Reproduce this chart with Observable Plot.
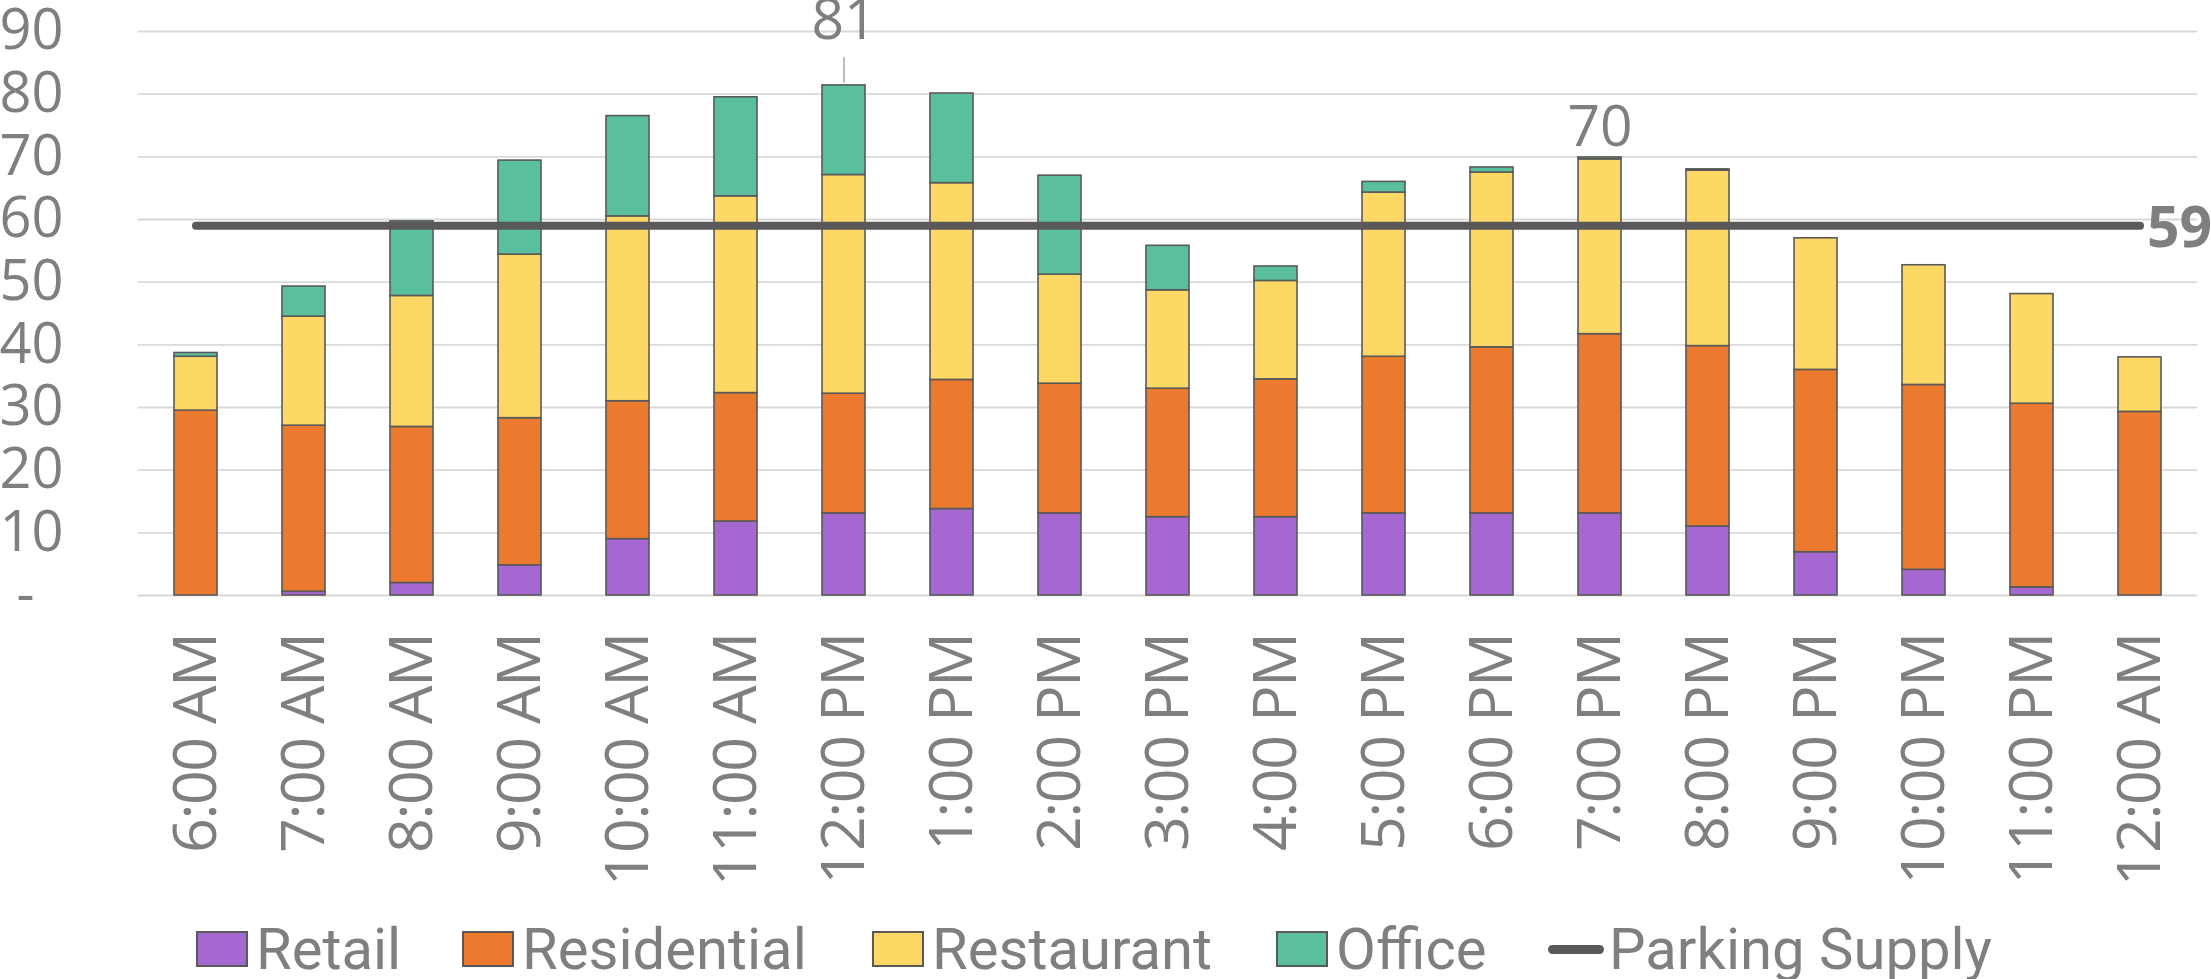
<!DOCTYPE html>
<html>
<head>
<meta charset="utf-8">
<script src="https://cdn.jsdelivr.net/npm/d3@7"></script>
<script src="https://cdn.jsdelivr.net/npm/@observablehq/plot@0.6"></script>
<style>
  html, body { margin: 0; padding: 0; background: #fff; overflow: hidden; width: 2211px; height: 979px; }
  #chart svg { display: block; }
  #chart g[aria-label="x-axis tick label"] text { letter-spacing: -1.5px; }
  #legend { position: relative; height: 59px; font-family: Roboto, "Open Sans", sans-serif; font-size: 58px; color: #7f7f7f; }
  .item { position: absolute; top: 0; height: 59px; display: flex; align-items: flex-start; white-space: nowrap; line-height: 58px; }
  .sw { box-sizing: border-box; width: 52px; height: 36px; border: 2px solid #595959; margin-top: 11px; margin-right: 8px; }
  .ln { width: 56px; height: 9px; border-radius: 5px; background: #595959; margin-top: 25px; margin-right: 5px; }
</style>
</head>
<body>
<div id="chart"></div>
<div id="legend"></div>
<script>
// ---- data ----
const categories = ["6:00 AM", "7:00 AM", "8:00 AM", "9:00 AM", "10:00 AM", "11:00 AM", "12:00 PM",
  "1:00 PM", "2:00 PM", "3:00 PM", "4:00 PM", "5:00 PM", "6:00 PM", "7:00 PM", "8:00 PM",
  "9:00 PM", "10:00 PM", "11:00 PM", "12:00 AM"];
const seriesNames = ["Retail", "Residential", "Restaurant", "Office"];
const retail      = [0, 0.6, 2.0, 4.8, 9.0, 11.8, 13.1, 13.8, 13.1, 12.5, 12.5, 13.1, 13.1, 13.1, 11.0, 6.9, 4.1, 1.3, 0];
const residential = [29.5, 26.5, 24.9, 23.5, 22.0, 20.5, 19.1, 20.6, 20.7, 20.5, 22.0, 25.0, 26.5, 28.6, 28.8, 29.1, 29.5, 29.3, 29.3];
const restaurant  = [8.6, 17.4, 20.9, 26.1, 29.5, 31.4, 34.9, 31.4, 17.4, 15.7, 15.7, 26.2, 27.9, 27.9, 28.0, 21.0, 19.1, 17.5, 8.7];
const office      = [0.6, 4.8, 11.9, 15.0, 16.0, 15.8, 14.3, 14.3, 15.8, 7.1, 2.3, 1.7, 0.8, 0.3, 0.2, 0, 0, 0, 0];
const parkingSupply = 59;
const parkingLabel = "Parking Supply";
const yTicks = [0, 10, 20, 30, 40, 50, 60, 70, 80, 90];
const peakHigh = "12:00 PM";   // labelled 81, with leader line
const peakEvening = "7:00 PM"; // labelled 70
const seriesColors = ["#a567d0", "#ec7a2e", "#fdd865", "#59bf9e"];

// ---- build table ----
const seriesValues = [retail, residential, restaurant, office];
const rows = [];
categories.forEach((c, i) => {
  seriesNames.forEach((s, j) => {
    const v = seriesValues[j][i];
    if (v > 0) rows.push({cat: c, series: s, value: v});
  });
});
const totalOf = c => {
  const i = categories.indexOf(c);
  return seriesValues.reduce((a, s) => a + s[i], 0);
};
const supplyLine = [categories[0], categories[categories.length - 1]].map(c => ({cat: c, v: parkingSupply}));

const gray = "#7f7f7f";
const chart = Plot.plot({
  width: 2211,
  height: 920,
  marginLeft: 137.6,
  marginRight: 14,
  marginTop: 31,
  marginBottom: 325,
  style: {fontFamily: "'Open Sans', sans-serif", color: gray, background: "white", overflow: "visible"},
  x: {domain: categories, paddingInner: 0.6, paddingOuter: 0.3, label: null},
  y: {domain: [0, 90], label: null},
  color: {domain: seriesNames, range: seriesColors},
  marks: [
    Plot.gridY(yTicks, {stroke: "#d9d9d9", strokeOpacity: 1, strokeWidth: 1.8}),
    Plot.axisY(yTicks, {tickSize: 0, tickPadding: 74.6, fontSize: 56, fill: gray, label: null,
      tickFormat: d => d === 0 ? "-\u00a0\u00a0" : String(d)}),
    Plot.axisX({tickSize: 0, tickPadding: 38, tickRotate: -90, fontSize: 61, fill: gray, label: null}),
    Plot.barY(rows, {x: "cat", y: "value", fill: "series", stroke: "#595959", strokeWidth: 1.6}),
    Plot.lineY(supplyLine, {x: "cat", y: "v", stroke: "#595959", strokeWidth: 8, strokeLinecap: "round"}),
    Plot.text([parkingSupply], {x: () => categories[categories.length - 1], y: d => d, text: d => String(d),
      dx: 7, dy: 3, textAnchor: "start", fontWeight: "bold", fontSize: 57, fill: gray}),
    Plot.ruleX([peakHigh], {x: d => d, y1: d => totalOf(d) + 0.35, y2: d => totalOf(d) + 4.4,
      stroke: "#a6a6a6", strokeWidth: 1.5}),
    Plot.text([peakHigh], {x: d => d, y: d => totalOf(d), text: d => String(Math.round(totalOf(d))),
      dy: -65, fontSize: 57, fill: gray}),
    Plot.text([peakEvening], {x: d => d, y: d => totalOf(d), text: d => String(Math.round(totalOf(d))),
      dy: -30, fontSize: 57, fill: gray})
  ]
});
document.getElementById("chart").appendChild(chart);

// ---- legend (HTML, below the SVG) ----
const legend = document.getElementById("legend");
const legendX = [196, 462, 872, 1276, 1548];
seriesNames.forEach((s, j) => {
  const it = document.createElement("div");
  it.className = "item";
  it.style.left = legendX[j] + "px";
  const sw = document.createElement("span");
  sw.className = "sw";
  sw.style.background = seriesColors[j];
  const t = document.createElement("span");
  t.textContent = s;
  it.appendChild(sw); it.appendChild(t);
  legend.appendChild(it);
});
{
  const it = document.createElement("div");
  it.className = "item";
  it.style.left = legendX[4] + "px";
  const ln = document.createElement("span");
  ln.className = "ln";
  const t = document.createElement("span");
  t.textContent = parkingLabel;
  it.appendChild(ln); it.appendChild(t);
  legend.appendChild(it);
}
</script>
</body>
</html>
